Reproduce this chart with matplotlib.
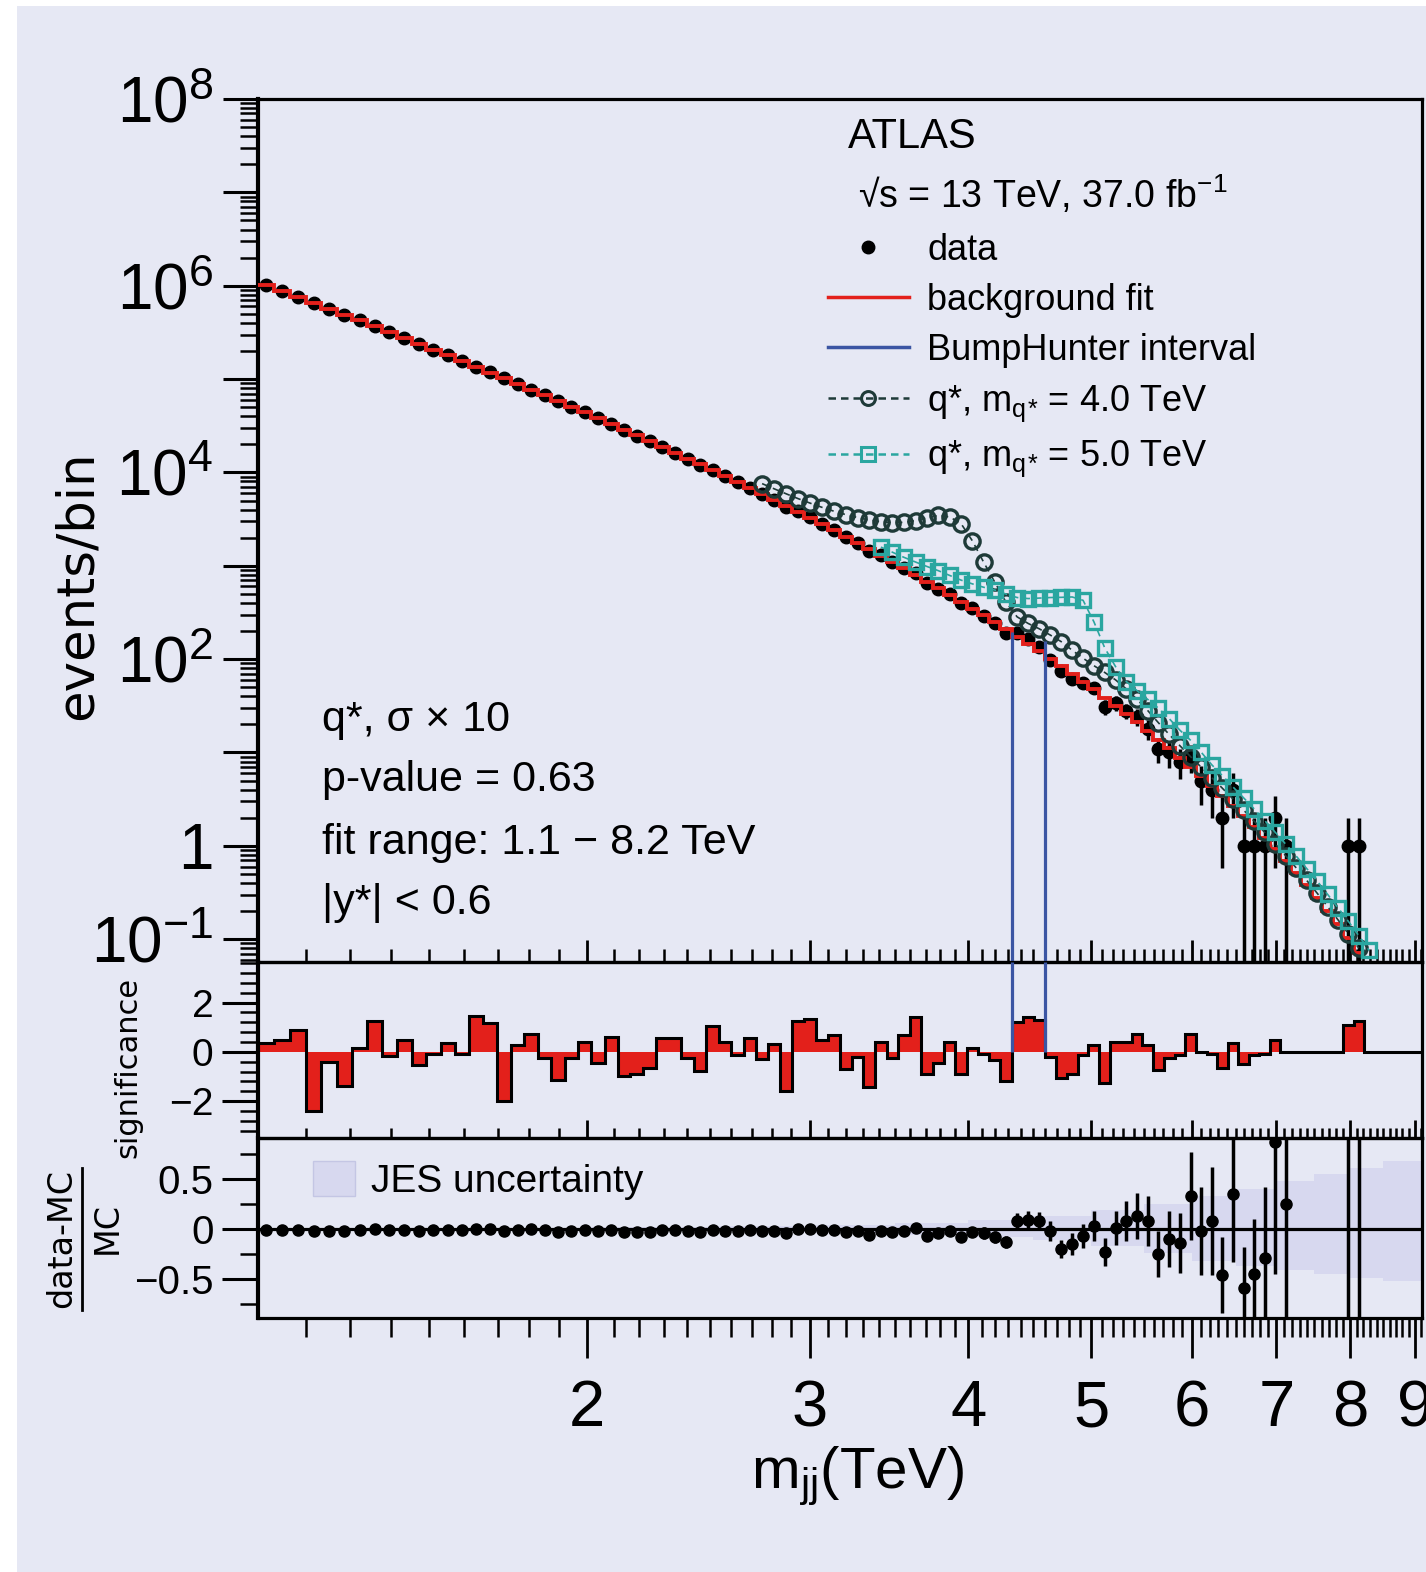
import numpy as np
import matplotlib
matplotlib.use('Agg')
from matplotlib import pyplot as plt
from matplotlib.lines import Line2D
from matplotlib.patches import Rectangle, Patch
from matplotlib.ticker import FixedLocator, FuncFormatter, NullFormatter, MultipleLocator, LogLocator

plt.rcParams['font.family'] = ['Liberation Sans Narrow', 'Liberation Sans', 'DejaVu Sans']
plt.rcParams['mathtext.fontset'] = 'custom'
plt.rcParams['mathtext.rm'] = 'Liberation Sans'
plt.rcParams['mathtext.it'] = 'Liberation Sans:italic'
plt.rcParams['mathtext.default'] = 'regular'

BG = '#e6e8f4'
RED = '#e3201b'
BLUE = '#3b55a3'
DARK = '#1e3a38'
TEAL = '#2aa6a0'
JES = '#d7d8ef'

# bin edges in GeV
edges_gev = [1100, 1133, 1166, 1200, 1234, 1269, 1305, 1341, 1378, 1416,
             1454, 1493, 1533, 1573, 1614, 1656, 1698, 1741, 1785, 1830,
             1875, 1921, 1968, 2016, 2065, 2114, 2164, 2215, 2267, 2320,
             2374, 2429, 2485, 2542, 2600, 2659, 2719, 2780, 2842, 2905,
             2969, 3034, 3100, 3167, 3235, 3305, 3376, 3448, 3521, 3596,
             3672, 3749, 3827, 3907, 3988, 4070, 4154, 4239, 4326, 4414,
             4504, 4595, 4688, 4782, 4878, 4975, 5074, 5175, 5277, 5381,
             5487, 5595, 5705, 5817, 5931, 6047, 6165, 6285, 6407, 6531,
             6658, 6787, 6918, 7052, 7188, 7326, 7467, 7610, 7756, 7904,
             8055, 8208, 8364, 8523, 8685, 8850, 9019, 9191]

# background fit, log10(events/bin), fit range bins (1.1 - 8.2 TeV)
fit_log10 = [6.010, 5.945, 5.881, 5.818, 5.755, 5.691, 5.628, 5.566, 5.503, 5.441,
             5.379, 5.316, 5.255, 5.193, 5.131, 5.070, 5.009, 4.948, 4.887, 4.826,
             4.765, 4.704, 4.642, 4.581, 4.519, 4.458, 4.397, 4.335, 4.274, 4.211,
             4.149, 4.086, 4.023, 3.960, 3.897, 3.833, 3.769, 3.704, 3.640, 3.575,
             3.510, 3.444, 3.378, 3.312, 3.245, 3.177, 3.109, 3.041, 2.971, 2.901,
             2.831, 2.760, 2.688, 2.615, 2.542, 2.468, 2.393, 2.318, 2.241, 2.163,
             2.084, 2.005, 1.924, 1.842, 1.759, 1.675, 1.589, 1.502, 1.414, 1.324,
             1.233, 1.139, 1.044, 0.946, 0.847, 0.746, 0.642, 0.536, 0.428, 0.316,
             0.202, 0.085, -0.036, -0.160, -0.287, -0.419, -0.554, -0.694, -0.838, -0.988,
             -1.143]

data_counts = [1023354, 881851, 761285, 654955, 567898, 490119, 424711, 368552, 318204, 275962,
               238731, 207168, 179844, 156072, 135833, 117901, 101461, 88803, 77220, 66835,
               57888, 50474, 43946, 37974, 33169, 28551, 24805, 21543, 18845, 16340,
               14060, 12116, 10659, 9160, 7872, 6851, 5849, 5083, 4257, 3835,
               3309, 2816, 2422, 2020, 1750, 1449, 1301, 1089, 957, 837,
               654, 564, 497, 395, 351, 293, 242, 190, 190, 163,
               136, 99, 74, 62, 56, 49, 31, 34, 28, 24,
               18, 11, 10, 8, 9, 5, 4, 2, 4, 1,
               1, 1, 2, 1, 0, 0, 0, 0, 0, 1,
               1]

significance = [0.35, 0.48, 0.9, -2.4, -0.4, -1.4, 0.17, 1.24, -0.17, 0.5,
                -0.55, -0.07, 0.34, -0.07, 1.45, 1.17, -2.0, 0.28, 0.72, -0.25,
                -1.13, -0.25, 0.41, -0.44, 0.6, -1.0, -0.92, -0.66, 0.55, 0.55,
                -0.25, -0.76, 1.06, 0.39, -0.11, 0.58, -0.28, 0.3, -1.6, 1.27,
                1.34, 0.5, 0.68, -0.68, -0.2, -1.42, 0.41, -0.27, 0.68, 1.42,
                -0.88, -0.47, 0.41, -0.88, 0.14, -0.07, -0.34, -1.2, 1.22, 1.42,
                1.28, -0.2, -1.08, -0.88, -0.11, 0.27, -1.28, 0.41, 0.41, 0.74,
                0.27, -0.74, -0.27, -0.14, 0.74, 0.0, -0.07, -0.65, 0.34, -0.5,
                -0.14, -0.07, 0.5, 0.0, 0.0, 0.0, 0.0, 0.0, 0.0, 1.08,
                1.24, 0.0, 0.0, 0.0, 0.0, 0.0, 0.0]

# q* signal (x10) + background, log10(events/bin)
q4_first = 36
q4_log10 = [3.880, 3.824, 3.770, 3.718, 3.670, 3.625, 3.584, 3.548, 3.517, 3.490,
            3.472, 3.462, 3.465, 3.484, 3.516, 3.540, 3.523, 3.450, 3.267, 3.039,
            2.824, 2.610, 2.453, 2.382, 2.325, 2.258, 2.187, 2.095, 2.010, 1.930,
            1.857, 1.778, 1.681, 1.569, 1.449, 1.318, 1.193, 1.073, 0.956, 0.843,
            0.731, 0.617, 0.502, 0.384, 0.265, 0.145, 0.022, -0.107, -0.236, -0.370,
            -0.507, -0.650, -0.793, -0.943, -1.097]
q5_first = 46
q5_log10 = [3.200, 3.145, 3.090, 3.040, 2.992, 2.947, 2.896, 2.846, 2.806, 2.770,
            2.740, 2.697, 2.660, 2.649, 2.654, 2.660, 2.662, 2.666, 2.630, 2.400,
            2.120, 1.920, 1.760, 1.663, 1.568, 1.474, 1.363, 1.239, 1.131, 1.003,
            0.868, 0.751, 0.631, 0.515, 0.396, 0.271, 0.146, 0.018, -0.110, -0.243,
            -0.378, -0.520, -0.664, -0.810, -0.963, -1.120]

# BumpHunter interval (TeV) and line heights
bump_edges = [4.326, 4.595]
bump_tops = [195, 158]

# (data-MC)/MC per bin
nan = float('nan')
ratio = [-0.01, -0.01, -0.005, -0.02, -0.015, -0.02, -0.01, 0.0, -0.01, -0.005,
         -0.015, -0.01, -0.005, -0.01, 0.0, 0.005, -0.02, -0.01, 0.0, -0.01,
         -0.025, -0.015, -0.01, -0.02, -0.01, -0.03, -0.03, -0.025, -0.01, -0.01,
         -0.02, -0.03, -0.005, -0.015, -0.02, -0.01, -0.02, -0.015, -0.04, 0.0,
         0.0, -0.01, -0.01, -0.03, -0.02, -0.06, -0.02, -0.03, -0.02, 0.01,
         -0.07, -0.04, -0.02, -0.08, -0.03, -0.04, -0.08, -0.13, 0.08, 0.09,
         0.08, -0.02, -0.2, -0.15, -0.07, 0.03, -0.23, 0.01, 0.08, 0.13,
         0.08, -0.25, -0.10, -0.14, 0.33, -0.02, 0.08, -0.46, 0.35, -0.59,
         -0.45, -0.29, 0.87, 0.25, nan, nan, nan, nan, nan, 9.0,
         9.0]

jes_m = [1.1, 2.0, 2.5, 3.0, 3.5, 4.0, 4.5, 5.0, 5.5, 6.0, 6.5, 7.0, 7.5, 8.0, 8.5, 9.2]
jes_up = [0.01, 0.02, 0.03, 0.04, 0.06, 0.09, 0.13, 0.19, 0.25, 0.33, 0.40, 0.48, 0.55, 0.61, 0.68, 0.85]
jes_dn = [-0.01, -0.02, -0.03, -0.04, -0.06, -0.08, -0.11, -0.17, -0.24, -0.32, -0.37, -0.41, -0.45, -0.49, -0.52, -0.55]

edges = np.array(edges_gev) / 1000.0
centers = np.sqrt(edges[:-1] * edges[1:])
nfit = len(fit_log10)

fig = plt.figure(figsize=(14.26, 15.72), dpi=100)
fig.patch.set_facecolor('white')
fig.patches.append(Rectangle((17 / 1426, 0), 1, 1 - 6 / 1572, transform=fig.transFigure,
                             facecolor=BG, edgecolor='none', zorder=-10))

L = 258 / 1426
W = (1422 - 258) / 1426
def fy(p):
    return 1 - p / 1572
ax1 = fig.add_axes([L, fy(962), W, (962 - 99) / 1572])
ax2 = fig.add_axes([L, fy(1138), W, (1138 - 962) / 1572], sharex=ax1)
ax3 = fig.add_axes([L, fy(1318), W, (1318 - 1138) / 1572], sharex=ax1)
for ax in (ax1, ax2, ax3):
    ax.set_facecolor('none')
    for s in ax.spines.values():
        s.set_linewidth(2.3)
    ax.spines['left'].set_linewidth(3.0)

ax1.set_xscale('log')
ax1.set_xlim(1.1, 9.12)

# ---- main panel
n = np.array(data_counts, dtype=float)
c = centers[:nfit]
m = n > 0
lo = np.minimum(np.sqrt(n), n - 1e-4)
hi = np.sqrt(n)
ax1.errorbar(c[m], n[m], yerr=[lo[m], hi[m]], fmt='o', color='k', ms=9,
             elinewidth=2.5, capsize=0, zorder=3)
ax1.stairs(10 ** np.array(fit_log10), edges[:nfit + 1], baseline=None,
           color=RED, lw=2.8, zorder=4)
ax1.plot(centers[q4_first:q4_first + len(q4_log10)], 10 ** np.array(q4_log10),
         ls='--', dashes=(4, 3), lw=1.2, color=DARK, marker='o', mfc='none',
         mec=DARK, ms=11, mew=2.4, zorder=5)
ax1.plot(centers[q5_first:q5_first + len(q5_log10)], 10 ** np.array(q5_log10),
         ls='--', dashes=(4, 3), lw=1.2, color=TEAL, marker='s', mfc='none',
         mec=TEAL, ms=10.5, mew=2.4, zorder=5)
ymin1 = 0.057
ax1.vlines(bump_edges, ymin1, bump_tops, color=BLUE, lw=2.3, zorder=6)
ax1.set_yscale('log')
ax1.set_ylim(ymin1, 1e8)

ylabels = {8: '$10^{8}$', 6: '$10^{6}$', 4: '$10^{4}$', 2: '$10^{2}$', 0: '1', -1: '$10^{-1}$'}
ax1.yaxis.set_major_locator(FixedLocator(10.0 ** np.arange(-1, 9)))
ax1.yaxis.set_major_formatter(FuncFormatter(
    lambda v, p: ylabels.get(int(round(np.log10(v))), '')))
ax1.yaxis.set_minor_locator(LogLocator(base=10, subs=np.arange(2, 10), numticks=30))
ax1.yaxis.set_minor_formatter(NullFormatter())
ax1.tick_params(axis='y', which='major', direction='out', length=25, width=2.2,
                labelsize=46, pad=7, right=False)
ax1.tick_params(axis='y', which='minor', direction='out', length=13, width=1.8, right=False)

xmajor = [2, 3, 4, 5, 6, 7, 8, 9]
xminor = [v / 10 for v in range(12, 92) if v % 10 != 0]
ax1.xaxis.set_major_locator(FixedLocator(xmajor))
ax1.xaxis.set_minor_locator(FixedLocator(xminor))
ax1.xaxis.set_major_formatter(FuncFormatter(lambda v, p: '%d' % round(v)))
ax1.xaxis.set_minor_formatter(NullFormatter())
ax1.tick_params(axis='x', which='major', direction='in', length=16, width=2.0,
                top=False, labelbottom=False)
ax1.tick_params(axis='x', which='minor', direction='in', length=9.5, width=1.8, top=False)

ax1.text(0.5069, 0.956, 'ATLAS', transform=ax1.transAxes, fontsize=30, va='center')
ax1.text(0.5155, 0.8888, '√s = 13 TeV, 37.0 fb$^{-1}$', transform=ax1.transAxes,
         fontsize=27, va='center')
handles = [Line2D([], [], ls='none', marker='o', color='k', ms=9),
           Line2D([], [], color=RED, lw=2.5),
           Line2D([], [], color=BLUE, lw=2.5),
           Line2D([], [], color=DARK, ls='--', dashes=(3, 2), lw=1.8, marker='o',
                  mfc='none', ms=10, mew=2.2),
           Line2D([], [], color=TEAL, ls='--', dashes=(3, 2), lw=1.8, marker='s',
                  mfc='none', ms=10, mew=2.2)]
labels = ['data', 'background fit', 'BumpHunter interval',
          'q*, m$_{q}$$_{*}$ = 4.0 TeV', 'q*, m$_{q}$$_{*}$ = 5.0 TeV']
ax1.legend(handles, labels, loc='upper left', bbox_to_anchor=(0.4895, 0.845),
           frameon=False, fontsize=26, handlelength=2.25, handletextpad=0.5,
           labelspacing=0.42, borderaxespad=0, borderpad=0)

info = ['q*, σ × 10', 'p-value = 0.63', 'fit range: 1.1 − 8.2 TeV', '|y*| < 0.6']
info_y = [0.2804, 0.2109, 0.1379, 0.0684]
for t, yy in zip(info, info_y):
    ax1.text(0.055, yy, t, transform=ax1.transAxes, fontsize=31, va='center')

# ---- significance panel
sig = np.array(significance)
ax2.stairs(sig, edges, baseline=0, fill=True, color=RED, lw=0, zorder=2)
ax2.stairs(sig, edges, baseline=None, color='k', lw=2.2, zorder=3)
ax2.vlines(bump_edges, 0, 3.65, color=BLUE, lw=2.3, zorder=4)
ax2.set_ylim(-3.5, 3.65)
ax2.yaxis.set_major_locator(FixedLocator([-2, 0, 2]))
ax2.yaxis.set_minor_locator(MultipleLocator(0.4))
ax2.tick_params(axis='y', which='major', direction='out', length=26, width=2.2,
                labelsize=28, pad=6)
ax2.tick_params(axis='y', which='minor', direction='out', length=13, width=1.8)
ax2.tick_params(axis='x', which='major', direction='in', length=13, width=2.0,
                top=False, labelbottom=False)
ax2.tick_params(axis='x', which='minor', direction='in', length=7, width=1.8, top=False)

# ---- data-MC panel
r = np.array(ratio)
rm = ~np.isnan(r)
rerr = (1 + r) / np.sqrt(np.where(n > 0, n, 1))
ax3.fill_between(jes_m, jes_dn, jes_up, step='post', color=JES, lw=0, zorder=1)
ax3.axhline(0, color='k', lw=2.3, zorder=2)
ax3.errorbar(c[rm], r[rm], yerr=rerr[rm], fmt='o', color='k', ms=8,
             elinewidth=2.5, capsize=0, zorder=3)
ax3.set_ylim(-0.89, 0.91)
ax3.yaxis.set_major_locator(FixedLocator([-0.5, 0, 0.5]))
ax3.yaxis.set_major_formatter(FuncFormatter(
    lambda v, p: {-0.5: '−0.5', 0.0: '0', 0.5: '0.5'}.get(round(v, 2), '')))
ax3.yaxis.set_minor_locator(MultipleLocator(0.25))
ax3.tick_params(axis='y', which='major', direction='out', length=26, width=2.2,
                labelsize=29, pad=6)
ax3.tick_params(axis='y', which='minor', direction='out', length=13, width=1.8)
ax3.tick_params(axis='x', which='major', direction='out', length=29, width=2.0,
                labelsize=47, pad=15, top=False)
ax3.tick_params(axis='x', which='minor', direction='out', length=14, width=1.8, top=False)
ax3.legend([Patch(facecolor=JES, edgecolor='#c4c6e4')], ['JES uncertainty'],
           loc='upper left', bbox_to_anchor=(0.047, 0.87), frameon=False, fontsize=28,
           handlelength=1.1, handleheight=1.0, handletextpad=0.4, borderaxespad=0,
           borderpad=0)

# ---- axis titles
fig.text(78 / 1426, fy(585), 'events/bin', rotation=90, ha='center', va='center',
         fontsize=37, family='DejaVu Sans')
fig.text(128 / 1426, fy(1067), 'significance', rotation=90, ha='center', va='center',
         fontsize=22, family='DejaVu Sans')
fig.text(62 / 1426, fy(1238), 'data-MC', rotation=90, ha='center', va='center',
         fontsize=24, family='DejaVu Sans')
fig.text(107 / 1426, fy(1228), 'MC', rotation=90, ha='center', va='center',
         fontsize=24, family='DejaVu Sans')
fig.add_artist(Line2D([82 / 1426, 82 / 1426], [fy(1168), fy(1310)], color='k', lw=2.0))
fig.text(858 / 1426, fy(1476), 'm$_{jj}$(TeV)', ha='center', va='center', fontsize=42)

fig.savefig('out.png', dpi=100, facecolor=fig.get_facecolor())
